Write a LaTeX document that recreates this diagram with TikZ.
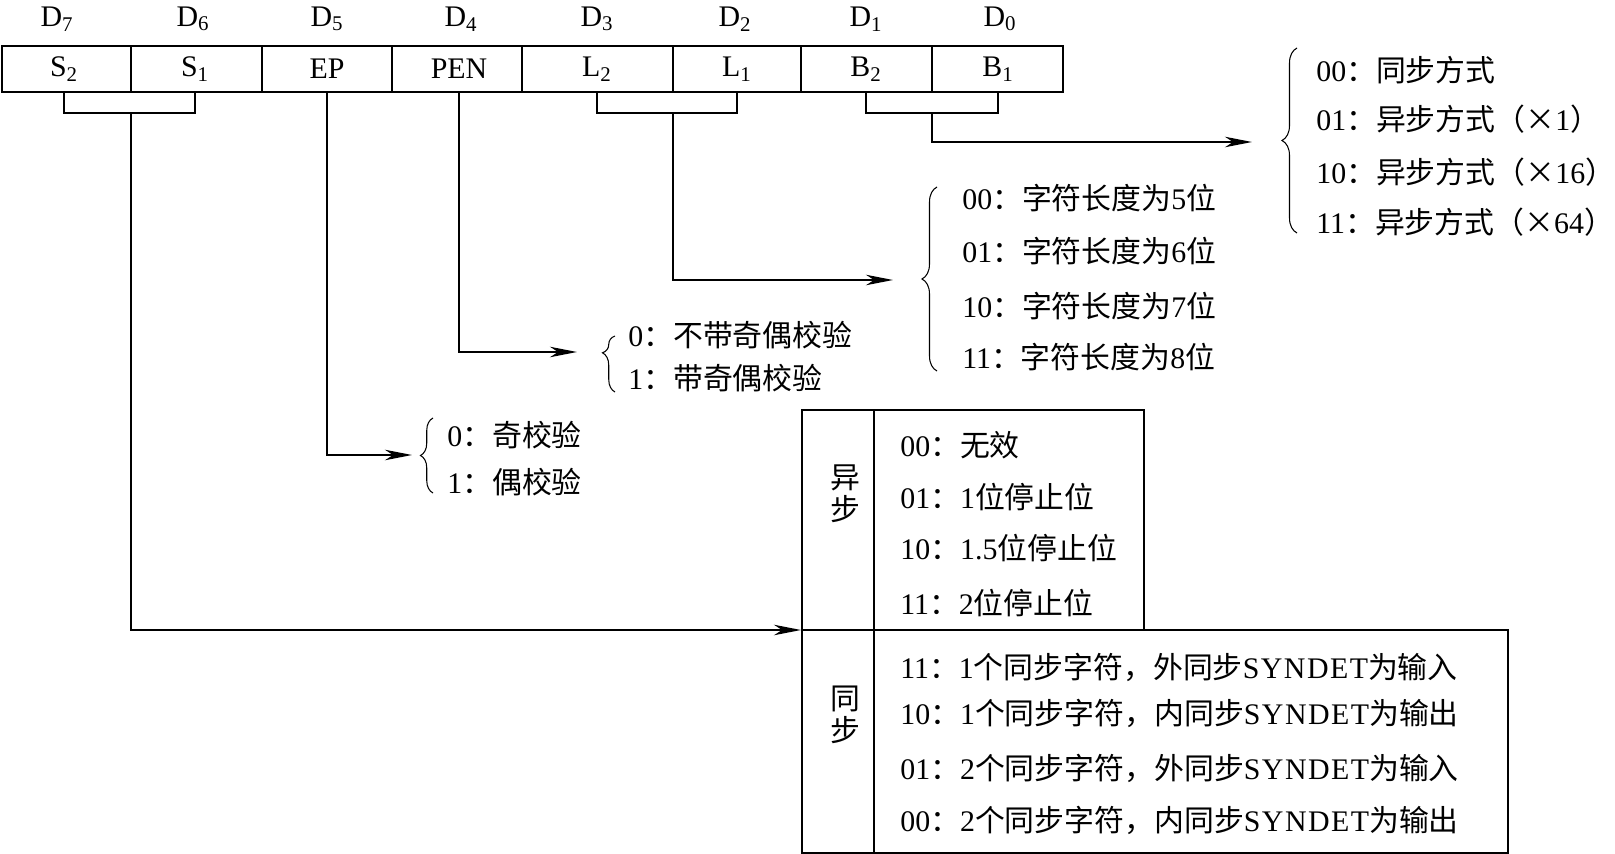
\documentclass[tikz,border=0pt]{standalone}
\usepackage{fontspec}
\setmainfont{Liberation Serif}
\newfontfamily\zhfont{Noto Sans CJK SC}
\newcommand{\zh}[1]{{\zhfont #1}}
\newcommand{\syndet}{{\addfontfeature{LetterSpace=5}SYNDET}}
\usetikzlibrary{arrows.meta,positioning,calc,decorations.pathreplacing}

\begin{document}
\begin{tikzpicture}[x=0.2mm,y=-0.2mm,
  bit/.style={inner sep=0pt,font=\fontsize{17}{18.5}\selectfont},
  item/.style={anchor=west,inner sep=0pt,font=\fontsize{17}{18.5}\selectfont},
  reg/.style={line width=1pt},
  wire/.style={line width=0.9pt},
  arrow/.style={wire,-{Stealth[length=5.4mm,width=2.1mm,inset=1.6mm]}},
  cbrace/.style={decorate,line width=0.6pt,decoration={brace,amplitude=#1}},
  cbrace/.default=3mm]
\useasboundingbox (0,0) rectangle (1615,854);

% control word register
\draw[reg] (2,46) rectangle (1063,92);
\foreach \x in {131,262,392,522,673,801,932}
  \draw[reg] (\x,46) -- (\x,92);
\node[bit] (s2) at (64,69) {S\textsubscript{2}};
\node[bit] (s1) at (195,69) {S\textsubscript{1}};
\node[bit] (ep) at (327,69) {EP};
\node[bit] (pen) at (459,69) {PEN};
\node[bit] (l2) at (597,69) {L\textsubscript{2}};
\node[bit] (l1) at (737,69) {L\textsubscript{1}};
\node[bit] (b2) at (866,69) {B\textsubscript{2}};
\node[bit] (b1) at (998,69) {B\textsubscript{1}};
\foreach \x/\n in {57/7,193/6,327/5,461/4,597/3,735/2,866/1,1000/0}
  \node[bit] (d\n) at (\x,19) {D\textsubscript{\n}};

% brackets and leads
\coordinate (base) at (0,92);
\draw[wire] (s2 |- base) -- ++(0,21) -| (s1 |- base);
\draw[wire] (l2 |- base) -- ++(0,21) -| (l1 |- base);
\draw[wire] (b2 |- base) -- ++(0,21) -| (b1 |- base);
\coordinate (sstem) at (131,113);
\coordinate (lstem) at (673,113);
\coordinate (bstem) at (932,113);
\coordinate (btip) at (1252,142);
\coordinate (ltip) at (893,280);
\coordinate (pentip) at (577,352);
\coordinate (eptip) at (412,455);
\coordinate (syncin) at (801,630);
\draw[arrow] (bstem) |- (btip);
\draw[arrow] (lstem) |- (ltip);
\draw[arrow] (pen |- base) |- (pentip);
\draw[arrow] (ep |- base) |- (eptip);
\draw[arrow] (sstem) |- (syncin);

% B2 B1
\draw[cbrace] (1297,233) -- (1297,48);
\foreach \y/\t [count=\i] in {70/00\zh{：同步方式},
    119/01\zh{：异步方式（×}1\zh{）},
    172/10\zh{：异步方式（×}16\zh{）},
    222/11\zh{：异步方式（×}64\zh{）}}
  \node[item] (bm\i) at (1316,\y) {\t};

% L2 L1
\draw[cbrace] (937,371) -- (937,187);
\foreach \y/\n [count=\i] in {198/5,251/6,306/7,357/8}
  \node[item] (lm\i) at (962,\y) {\ifcase\i\or00\or01\or10\or11\fi\zh{：字符长度为}\n\zh{位}};

% PEN
\draw[cbrace=2.5mm,decoration={aspect=0.7}] (615,392) -- (615,336);
\node[item] (pen0) at (628,335) {0\zh{：不带奇偶校验}};
\node[item] (pen1) at (628,378) {1\zh{：带奇偶校验}};

% EP
\draw[cbrace=2.5mm] (433,493) -- (433,418);
\node[item] (ep0) at (447,435) {0\zh{：奇校验}};
\node[item] (ep1) at (447,482) {1\zh{：偶校验}};

% S2 S1 table
\draw[reg] (802,410) rectangle (1144,630);
\draw[reg] (802,630) rectangle (1508,853);
\draw[reg] (874,410) -- (874,853);
\node[bit,align=center] (async) at (845,494) {\zh{异}\\\zh{步}};
\node[bit,align=center] (sync) at (845,715) {\zh{同}\\\zh{步}};
\node[item] (am1) at (900,445) {00\zh{：无效}};
\node[item] (am2) at (900,497) {01\zh{：}1\zh{位停止位}};
\node[item] (am3) at (900,548) {10\zh{：}1.5\zh{位停止位}};
\node[item] (am4) at (900,603) {11\zh{：}2\zh{位停止位}};
\node[item] (sm1) at (900,667) {11\zh{：}1\zh{个同步字符，外同步}\syndet\zh{为输入}};
\node[item] (sm2) at (900,713) {10\zh{：}1\zh{个同步字符，内同步}\syndet\zh{为输出}};
\node[item] (sm3) at (900,768) {01\zh{：}2\zh{个同步字符，外同步}\syndet\zh{为输入}};
\node[item] (sm4) at (900,820) {00\zh{：}2\zh{个同步字符，内同步}\syndet\zh{为输出}};
\end{tikzpicture}
\end{document}
